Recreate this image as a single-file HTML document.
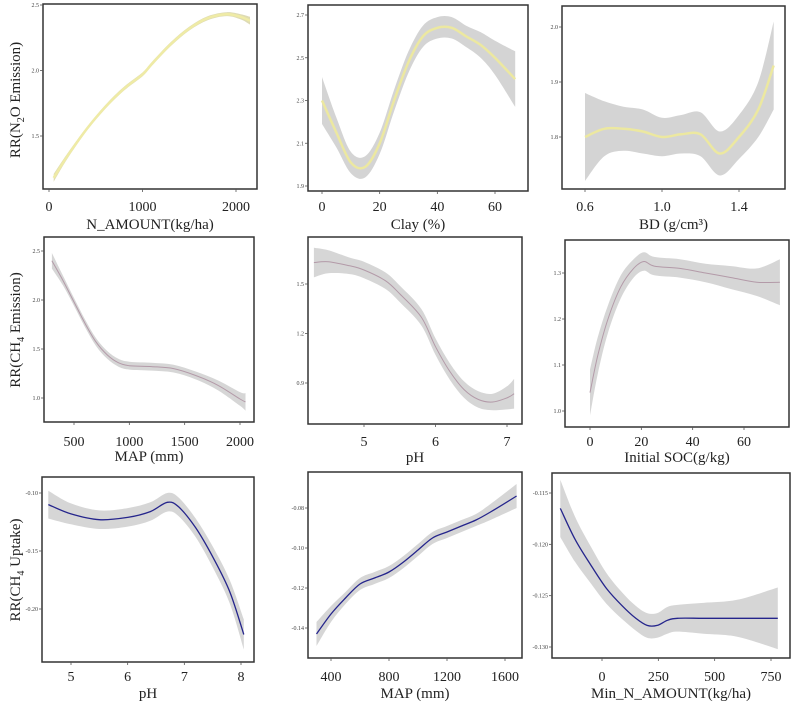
<!DOCTYPE html>
<html><head><meta charset="utf-8">
<style>
html,body{margin:0;padding:0;background:#fff;}
svg{display:block;font-family:"Liberation Serif",serif;}
</style></head>
<body>
<svg id="fig" width="791" height="706" viewBox="0 0 791 706">
<text transform="translate(20,100) rotate(-90)" text-anchor="middle" font-size="15" fill="#222">RR(N<tspan font-size="10" dy="4">2</tspan><tspan dy="-4">O Emission)</tspan></text>
<text transform="translate(20,330) rotate(-90)" text-anchor="middle" font-size="15" fill="#222">RR(CH<tspan font-size="10" dy="4">4</tspan><tspan dy="-4"> Emission)</tspan></text>
<text transform="translate(20,570) rotate(-90)" text-anchor="middle" font-size="15" fill="#222">RR(CH<tspan font-size="10" dy="4">4</tspan><tspan dy="-4"> Uptake)</tspan></text>
</svg>
<script>
// ---- data ----
const p1X=[50,200,400,600,800,1000,1100,1300,1500,1700,1900,2050,2150];
const p1Y=[1.18,1.35,1.55,1.72,1.86,1.97,2.05,2.2,2.32,2.4,2.43,2.41,2.38];
const p1E=[0.03,0.02,0.015,0.015,0.015,0.015,0.015,0.015,0.015,0.015,0.015,0.02,0.03];
const p2X=[0,5,10,15,20,25,30,35,40,45,50,55,60,67];
const p2Y=[2.3,2.15,2.01,1.99,2.1,2.3,2.48,2.6,2.64,2.64,2.6,2.56,2.5,2.4];
const p2E=[0.11,0.07,0.05,0.05,0.05,0.05,0.05,0.05,0.05,0.05,0.05,0.06,0.08,0.13];
const p3X=[0.6,0.7,0.8,0.9,1.0,1.1,1.2,1.3,1.4,1.5,1.58];
const p3Y=[1.8,1.815,1.815,1.81,1.8,1.805,1.805,1.77,1.8,1.85,1.93];
const p3E=[0.08,0.05,0.04,0.04,0.035,0.035,0.04,0.04,0.04,0.05,0.08];
const p4X=[300,400,500,600,700,800,900,1000,1200,1400,1600,1800,2000,2050];
const p4Y=[2.4,2.2,1.98,1.76,1.57,1.44,1.36,1.33,1.32,1.3,1.23,1.13,0.99,0.96];
const p4E=[0.08,0.05,0.04,0.04,0.04,0.04,0.04,0.04,0.04,0.04,0.04,0.05,0.07,0.09];
const p5X=[4.3,4.5,4.8,5,5.3,5.5,5.8,6,6.2,6.4,6.6,6.8,7,7.1];
const p5Y=[1.63,1.635,1.61,1.585,1.52,1.44,1.3,1.12,0.97,0.86,0.8,0.785,0.81,0.835];
const p5E=[0.09,0.07,0.05,0.05,0.05,0.05,0.05,0.05,0.05,0.05,0.05,0.05,0.07,0.09];
const p6X=[0,3,7,12,17,21,25,35,45,55,65,74];
const p6Y=[1.04,1.12,1.2,1.27,1.31,1.325,1.315,1.31,1.3,1.29,1.28,1.28];
const p6E=[0.05,0.04,0.03,0.025,0.02,0.02,0.02,0.02,0.02,0.025,0.03,0.05];
const p7X=[4.6,5,5.5,6,6.4,6.7,6.9,7.2,7.5,7.8,8.05];
const p7Y=[-0.11,-0.118,-0.123,-0.121,-0.116,-0.108,-0.112,-0.13,-0.155,-0.185,-0.222];
const p7E=[0.012,0.009,0.008,0.008,0.008,0.008,0.008,0.008,0.009,0.01,0.013];
const p8X=[300,400,500,600,700,800,900,1000,1100,1200,1300,1400,1500,1680];
const p8Y=[-0.143,-0.133,-0.125,-0.118,-0.115,-0.112,-0.107,-0.101,-0.095,-0.092,-0.089,-0.086,-0.082,-0.074];
const p8E=[0.006,0.004,0.003,0.003,0.003,0.003,0.003,0.003,0.003,0.003,0.003,0.003,0.004,0.006];
const p9X=[-185,-120,-50,20,90,150,200,245,290,335,450,600,780];
const p9Y=[-0.1165,-0.1195,-0.122,-0.1243,-0.126,-0.1272,-0.1279,-0.1279,-0.1274,-0.1272,-0.1272,-0.1272,-0.1272];
const p9E=[0.0028,0.0022,0.0018,0.0015,0.0013,0.0012,0.0012,0.0012,0.0013,0.0013,0.0015,0.0018,0.003];
// tick labels
const p1XT=[0,1000,2000], p1YT=["1.5","2.0","2.5"];
const p2XT=[0,20,40,60], p2YT=["1.9","2.1","2.3","2.5","2.7"];
const p3XT=["0.6","1.0","1.4"], p3YT=["1.8","1.9","2.0"];
const p4XT=[500,1000,1500,2000], p4YT=["1.0","1.5","2.0","2.5"];
const p5XT=[5,6,7], p5YT=["0.9","1.2","1.5"];
const p6XT=[0,20,40,60], p6YT=["1.0","1.1","1.2","1.3"];
const p7XT=[5,6,7,8], p7YT=["-0.20","-0.15","-0.10"];
const p8XT=[400,800,1200,1600], p8YT=["-0.14","-0.12","-0.10","-0.08"];
const p9XT=[0,250,500,750], p9YT=["-0.130","-0.125","-0.120","-0.115"];

const NS="http://www.w3.org/2000/svg";
const svg=document.getElementById('fig');
function mk(tag,attrs,parent){const e=document.createElementNS(NS,tag);for(const k in attrs)e.setAttribute(k,attrs[k]);(parent||svg).appendChild(e);return e;}
function lin(v0,p0,v1,p1){return v=>p0+(v-v0)*(p1-p0)/(v1-v0);}
function smooth(pts){let d="M"+pts[0][0].toFixed(1)+","+pts[0][1].toFixed(1);
 for(let i=0;i<pts.length-1;i++){const p0=pts[Math.max(i-1,0)],p1=pts[i],p2=pts[i+1],p3=pts[Math.min(i+2,pts.length-1)];
  const c1=[p1[0]+(p2[0]-p0[0])/6,p1[1]+(p2[1]-p0[1])/6],c2=[p2[0]-(p3[0]-p1[0])/6,p2[1]-(p3[1]-p1[1])/6];
  d+=" C"+c1.map(n=>n.toFixed(1))+" "+c2.map(n=>n.toFixed(1))+" "+p2.map(n=>n.toFixed(1));}
 return d;}

const panels=[
 {id:"n-amount",box:[43,4,257,189],sx:lin(0,49,2000,236),sy:lin(1.5,136,2.5,5),X:p1X,Y:p1Y,E:p1E,xt:p1XT,yt:p1YT,title:"N_AMOUNT(kg/ha)",tY:[205,223],band:"#dedbb4",line:"#efeba6",lw:2.5},
 {id:"clay",box:[308,5,528,191],sx:lin(0,322,60,495),sy:lin(1.9,186,2.7,15),X:p2X,Y:p2Y,E:p2E,xt:p2XT,yt:p2YT,title:"Clay (%)",tY:[205,223],band:"#d4d4d4",line:"#ece8a0",lw:2.5},
 {id:"bd",box:[562,6,785,189],sx:lin(0.6,585,1.4,739),sy:lin(1.8,137,2.0,27),X:p3X,Y:p3Y,E:p3E,xt:p3XT,yt:p3YT,title:"BD (g/cm³)",tY:[205,223],band:"#d4d4d4",line:"#ece8a0",lw:2.5},
 {id:"map-ch4",box:[44,237,254,422],sx:lin(500,74,2000,240),sy:lin(1.0,398,2.5,251),X:p4X,Y:p4Y,E:p4E,xt:p4XT,yt:p4YT,title:"MAP (mm)",tY:[440,455],band:"#d6d6d6",line:"#b39aa8",lw:1},
 {id:"ph-ch4",box:[308,237,522,424],sx:lin(5,364,7,507),sy:lin(0.9,383,1.5,284),X:p5X,Y:p5Y,E:p5E,xt:p5XT,yt:p5YT,title:"pH",tY:[440,456],band:"#d6d6d6",line:"#b39aa8",lw:1},
 {id:"soc",box:[565,240,789,427],sx:lin(0,590,60,744),sy:lin(1.0,411,1.3,273),X:p6X,Y:p6Y,E:p6E,xt:p6XT,yt:p6YT,title:"Initial  SOC(g/kg)",tY:[440,456],band:"#d6d6d6",line:"#b39aa8",lw:1},
 {id:"ph-uptake",box:[42,477,254,662],sx:lin(5,71,8,241),sy:lin(-0.20,609,-0.10,493),X:p7X,Y:p7Y,E:p7E,xt:p7XT,yt:p7YT,title:"pH",tY:[675,692],band:"#d6d6d6",line:"#25258c",lw:1.3},
 {id:"map-uptake",box:[308,472,522,658],sx:lin(400,331,1600,505),sy:lin(-0.14,628,-0.08,508),X:p8X,Y:p8Y,E:p8E,xt:p8XT,yt:p8YT,title:"MAP (mm)",tY:[675,692],band:"#d6d6d6",line:"#25258c",lw:1.3},
 {id:"min-n",box:[552,473,790,658],sx:lin(0,602,750,771),sy:lin(-0.130,647,-0.115,493),X:p9X,Y:p9Y,E:p9E,xt:p9XT,yt:p9YT,title:"Min_N_AMOUNT(kg/ha)",tY:[675,692],band:"#d6d6d6",line:"#25258c",lw:1.3}
];

panels.forEach(p=>{
 const g=mk('g',{});
 
 
 const [x0,y0,x1,y1]=p.box;
 const up=p.X.map((x,i)=>[p.sx(x),p.sy(p.Y[i]+p.E[i])]);
 const lo=p.X.map((x,i)=>[p.sx(x),p.sy(p.Y[i]-p.E[i])]).reverse();
 const bd=smooth(up)+" L"+lo[0][0].toFixed(1)+","+lo[0][1].toFixed(1)+smooth(lo).replace(/^M[^ ]+/,"")+" Z";
 const band=mk('path',{d:bd,fill:p.band,stroke:"none"},g);
 
 
 const ln=mk('path',{d:smooth(p.X.map((x,i)=>[p.sx(x),p.sy(p.Y[i])])),fill:"none",stroke:p.line,"stroke-width":p.lw},g);
 
 
 const fr=mk('rect',{x:x0,y:y0,width:x1-x0,height:y1-y0,fill:"none",stroke:"#333","stroke-width":1.5},g);
 
 
 p.xt.forEach(t=>{const px=p.sx(+t);
  mk('line',{x1:px,x2:px,y1:y1,y2:y1+3,stroke:"#555","stroke-width":0.8},g);
  const tx=mk('text',{x:px,y:p.tY[0]+6,"text-anchor":"middle","font-size":14,fill:"#222"},g);
  tx.textContent=t;
  
  });
 p.yt.forEach(t=>{const py=p.sy(+t);
  mk('line',{x1:x0-3,x2:x0,y1:py,y2:py,stroke:"#555","stroke-width":0.8},g);
  const ty=mk('text',{x:x0-4,y:py+2,"text-anchor":"end","font-size":6,fill:"#444"},g);
  ty.textContent=t;
  
  });
 const at=mk('text',{x:(x0+x1)/2,y:p.tY[1]+6,"text-anchor":"middle","font-size":15,fill:"#222"},g);
 at.textContent=p.title;
 
 
});
</script>
</body></html>
